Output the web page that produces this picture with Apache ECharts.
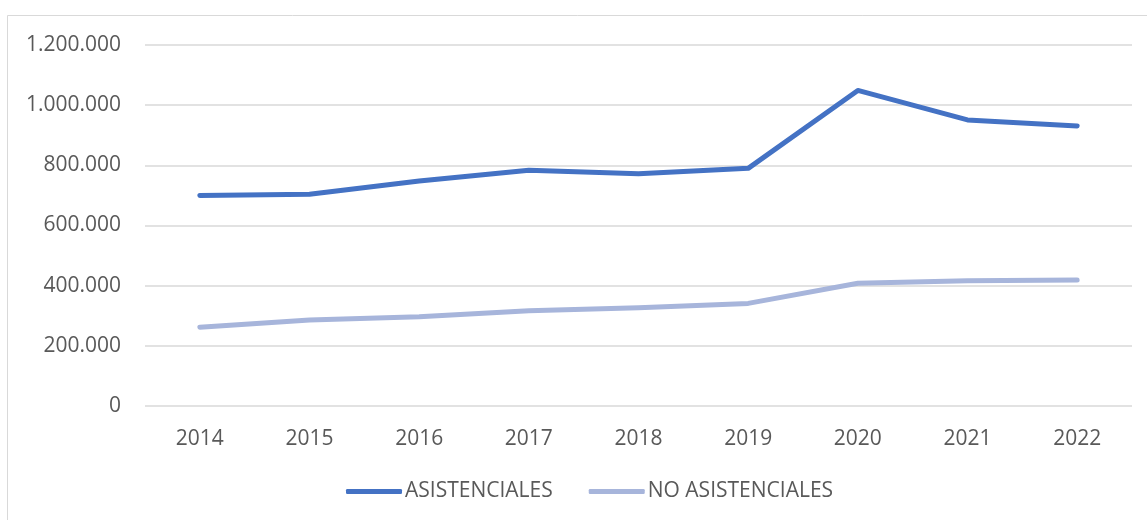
<!DOCTYPE html>
<html>
<head>
<meta charset="utf-8">
<script src="https://cdn.jsdelivr.net/npm/echarts@6/dist/echarts.min.js"></script>
<style>
html, body { margin: 0; padding: 0; background: #fff; }
#chart { width: 1147px; height: 520px; }
</style>
</head>
<body>
<div id="chart"></div>
<script>
var years = ['2014', '2015', '2016', '2017', '2018', '2019', '2020', '2021', '2022'];
var asistenciales = [700000, 704000, 748000, 784000, 772000, 790000, 1049000, 951000, 931000];
var noAsistenciales = [262000, 286000, 297000, 317000, 327000, 341000, 408000, 416000, 419000];

var dom = document.getElementById('chart');
var myChart = echarts.init(dom);

function fmt(v) {
	return String(v).replace(/\B(?=(\d{3})+(?!\d))/g, '.');
}

var font = 'Open Sans';

myChart.setOption({
	animation: false,
	backgroundColor: '#fff',
	graphic: [{
		type: 'rect',
		shape: { x: 7.5, y: 15.5, width: 1160, height: 520 },
		style: { fill: 'none', stroke: '#d9d9d9', lineWidth: 1 },
		silent: true
	}],
	grid: { left: 145, right: 15, top: 45, bottom: 114 },
	legend: {
		bottom: 18,
		left: 346,
		padding: 0,
		icon: 'roundRect',
		itemWidth: 56,
		itemHeight: 5,
		itemGap: 36,
		textStyle: { color: '#595959', fontSize: 21, fontFamily: font, padding: [0, 0, 0, -2] },
		data: ['ASISTENCIALES', 'NO ASISTENCIALES']
	},
	xAxis: {
		type: 'category',
		data: years,
		boundaryGap: true,
		axisLine: { show: false },
		axisTick: { show: false },
		axisLabel: { color: '#595959', fontSize: 21, fontFamily: font, margin: 23 }
	},
	yAxis: {
		type: 'value',
		min: 0,
		max: 1200000,
		interval: 200000,
		axisLine: { show: false },
		axisTick: { show: false },
		splitLine: { lineStyle: { color: '#d9d9d9', width: 1.5 } },
		axisLabel: { color: '#595959', fontSize: 21, fontFamily: font, margin: 24, formatter: fmt }
	},
	series: [{
		name: 'ASISTENCIALES',
		type: 'line',
		data: asistenciales,
		symbol: 'none',
		color: '#4472c4',
		lineStyle: { width: 5, cap: 'round', join: 'round' }
	}, {
		name: 'NO ASISTENCIALES',
		type: 'line',
		data: noAsistenciales,
		symbol: 'none',
		color: '#a7b5db',
		lineStyle: { width: 5, cap: 'round', join: 'round' }
	}]
});
</script>
</body>
</html>
